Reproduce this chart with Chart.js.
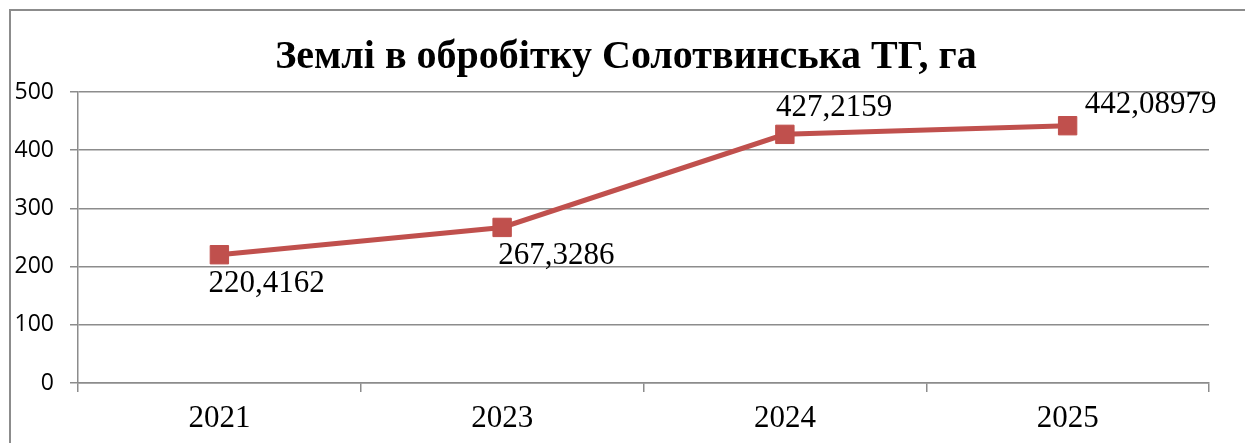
<!DOCTYPE html>
<html lang="uk">
<head>
  <meta charset="UTF-8" />
  <title>Землі в обробітку Солотвинська ТГ, га</title>
  <script src="https://cdn.jsdelivr.net/npm/chart.js"></script>
  <style>
    html, body { margin: 0; padding: 0; background: #fff; overflow: hidden; }
    #wrap { width: 1245px; height: 443px; position: relative; }
  </style>
</head>
<body>
  <div id="wrap"><canvas id="chart" width="1245" height="443"></canvas></div>

  <script>
    // Дані
    const titleText = 'Землі в обробітку Солотвинська ТГ, га';
    const years = ['2021', '2023', '2024', '2025'];
    const areaHa = [220.4162, 267.3286, 427.2159, 442.08979];
    const areaLabels = ['220,4162', '267,3286', '427,2159', '442,08979'];
    const yTicks = [0, 100, 200, 300, 400, 500];

    const red = '#C0504D';
    const gridGray = '#8c8c8c';

    // Рамка, заголовок і підписи точок
    const decorPlugin = {
      id: 'decor',
      beforeDraw(chart) {
        const c = chart.ctx;
        c.save();
        c.strokeStyle = gridGray;
        c.lineWidth = 2;
        c.strokeRect(10, 10, 1400, 600);
        c.fillStyle = '#000';
        c.font = 'bold 40px "Liberation Serif", "Times New Roman", serif';
        c.textAlign = 'center';
        c.textBaseline = 'alphabetic';
        c.fillText(titleText, 626, 68);
        c.restore();
      },
      afterDatasetsDraw(chart, args, opts) {
        const c = chart.ctx;
        const meta = chart.getDatasetMeta(0);
        c.save();
        c.fillStyle = '#000';
        c.font = '31px "Liberation Serif", "Times New Roman", serif';
        c.textAlign = 'left';
        c.textBaseline = 'alphabetic';
        meta.data.forEach((pt, i) => {
          const off = opts.offsets[i];
          c.fillText(areaLabels[i], pt.x + off[0], pt.y + off[1]);
        });
        c.restore();
      }
    };

    new Chart(document.getElementById('chart'), {
      type: 'line',
      data: {
        labels: years,
        datasets: [{
          data: areaHa,
          borderColor: red,
          backgroundColor: red,
          borderWidth: 5,
          tension: 0,
          pointStyle: 'rect',
          pointRadius: 13,
          pointBorderWidth: 1,
          pointBorderColor: red,
          pointBackgroundColor: red
        }]
      },
      options: {
        responsive: false,
        animation: false,
        events: [],
        layout: { padding: { top: 92, left: 10, right: 36, bottom: 0 } },
        plugins: {
          legend: { display: false },
          title: { display: false },
          tooltip: { enabled: false },
          decor: { offsets: [[-11, 37], [-4, 37], [-9, -18], [17, -13]] }
        },
        scales: {
          x: {
            offset: true,
            grid: { offset: true, drawOnChartArea: false, drawTicks: true, tickLength: 9, color: gridGray, lineWidth: 1.5 },
            border: { display: true, color: gridGray, width: 1.5 },
            ticks: { color: '#000', padding: 8, font: { family: '"Liberation Serif", "Times New Roman", serif', size: 31 } },
            afterFit: (scale) => { scale.height = 60; }
          },
          y: {
            min: 0,
            max: 500,
            afterBuildTicks: (scale) => { scale.ticks = yTicks.map(v => ({ value: v })); },
            grid: { color: gridGray, lineWidth: 1.5, tickLength: 8 },
            border: { display: true, color: gridGray, width: 1.5 },
            ticks: { color: '#000', padding: 16, font: { family: '"Open Sans", sans-serif', size: 23 } },
            afterFit: (scale) => { scale.width = 68; }
          }
        }
      },
      plugins: [decorPlugin]
    });
  </script>
</body>
</html>
